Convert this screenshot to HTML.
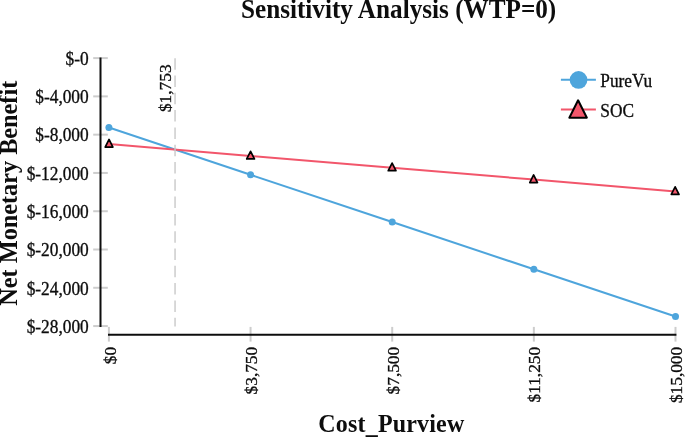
<!DOCTYPE html>
<html><head><meta charset="utf-8"><title>Sensitivity Analysis</title>
<style>
html,body{margin:0;padding:0;background:#fff;overflow:hidden;}
svg{display:block;will-change:transform;font-family:"Liberation Serif",serif;}
</style></head><body>
<svg width="685" height="437" viewBox="0 0 685 437">
<rect width="685" height="437" fill="#fff"/>
<text transform="translate(398.6,17.6) scale(1,1.06)" font-size="25.2" font-weight="bold" text-anchor="middle" fill="#0d0d0d">Sensitivity Analysis (WTP=0)</text>
<text transform="translate(170.8,64.4) rotate(-90) scale(1,1.02)" stroke="#0d0d0d" stroke-width="0.3" font-size="17.33" text-anchor="end" fill="#0d0d0d">$1,753</text>
<g stroke="#cdcdcd" stroke-width="2">
<line x1="93.2" x2="107.8" y1="58.10" y2="58.10"/>
<line x1="93.2" x2="107.8" y1="96.38" y2="96.38"/>
<line x1="93.2" x2="107.8" y1="134.66" y2="134.66"/>
<line x1="93.2" x2="107.8" y1="172.94" y2="172.94"/>
<line x1="93.2" x2="107.8" y1="211.22" y2="211.22"/>
<line x1="93.2" x2="107.8" y1="249.50" y2="249.50"/>
<line x1="93.2" x2="107.8" y1="287.78" y2="287.78"/>
<line x1="93.2" x2="107.8" y1="326.06" y2="326.06"/>
<line y1="326.9" y2="341.6" x1="108.90" x2="108.90"/>
<line y1="326.9" y2="341.6" x1="250.55" x2="250.55"/>
<line y1="326.9" y2="341.6" x1="392.20" x2="392.20"/>
<line y1="326.9" y2="341.6" x1="533.85" x2="533.85"/>
<line y1="326.9" y2="341.6" x1="675.50" x2="675.50"/>
</g>
<line x1="100.5" x2="100.5" y1="57.6" y2="326.9" stroke="#0d0d0d" stroke-width="2"/>
<line x1="108" x2="676.4" y1="334.7" y2="334.7" stroke="#0d0d0d" stroke-width="2"/>
<g font-size="17.33" text-anchor="end" fill="#0d0d0d" stroke="#0d0d0d" stroke-width="0.3">
<text transform="translate(88.7,64.85) scale(1,1.03)">$-0</text>
<text transform="translate(88.7,103.13) scale(1,1.03)">$-4,000</text>
<text transform="translate(88.7,141.41) scale(1,1.03)">$-8,000</text>
<text transform="translate(88.7,179.69) scale(1,1.03)">$-12,000</text>
<text transform="translate(88.7,217.97) scale(1,1.03)">$-16,000</text>
<text transform="translate(88.7,256.25) scale(1,1.03)">$-20,000</text>
<text transform="translate(88.7,294.53) scale(1,1.03)">$-24,000</text>
<text transform="translate(88.7,332.81) scale(1,1.03)">$-28,000</text>
</g>
<g font-size="17.33" text-anchor="end" fill="#0d0d0d" stroke="#0d0d0d" stroke-width="0.3">
<text transform="translate(115.50,346.8) rotate(-90) scale(1,1.02)">$0</text>
<text transform="translate(257.15,346.8) rotate(-90) scale(1,1.02)">$3,750</text>
<text transform="translate(398.80,346.8) rotate(-90) scale(1,1.02)">$7,500</text>
<text transform="translate(540.45,346.8) rotate(-90) scale(1,1.02)">$11,250</text>
<text transform="translate(682.10,346.8) rotate(-90) scale(1,1.02)">$15,000</text>
</g>
<text transform="translate(16.5,193.2) rotate(-90)" font-size="24.25" font-weight="bold" text-anchor="middle" fill="#0d0d0d">Net Monetary Benefit</text>
<text transform="translate(391.4,431.5) scale(1,1.03)" font-size="24" letter-spacing="0.18" font-weight="bold" text-anchor="middle" fill="#0d0d0d">Cost<tspan dy="1.9">_</tspan><tspan dy="-1.9">Purview</tspan></text>
<polyline points="108.90,127.55 250.55,174.80 392.20,222.05 533.85,269.30 675.50,316.55" fill="none" stroke="#4ea5dc" stroke-width="2"/>
<polyline points="108.90,144.10 250.55,155.93 392.20,167.76 533.85,179.59 675.50,191.42" fill="none" stroke="#f2566b" stroke-width="2"/>
<line x1="175.05" y1="58.2" x2="175.05" y2="326.6" stroke="#c9c9c9" stroke-width="1.4" stroke-dasharray="11.5,5.8"/>
<g fill="#4ea5dc">
<circle cx="108.90" cy="127.55" r="3.5"/>
<circle cx="250.55" cy="174.80" r="3.5"/>
<circle cx="392.20" cy="222.05" r="3.5"/>
<circle cx="533.85" cy="269.30" r="3.5"/>
<circle cx="675.50" cy="316.55" r="3.5"/>
</g>
<g fill="#f2566b" stroke="#000" stroke-width="1.7" stroke-linejoin="round">
<path d="M109.05,139.45 l3.85,7.6 h-7.7z"/>
<path d="M250.58,151.28 l3.85,7.6 h-7.7z"/>
<path d="M392.10,163.11 l3.85,7.6 h-7.7z"/>
<path d="M533.62,174.94 l3.85,7.6 h-7.7z"/>
<path d="M675.15,186.77 l3.85,7.6 h-7.7z"/>
</g>
<line x1="560.9" x2="595.9" y1="79.8" y2="79.8" stroke="#4ea5dc" stroke-width="2"/>
<circle cx="578.55" cy="79.9" r="8.85" fill="#4ea5dc"/>
<line x1="560.9" x2="595.9" y1="109.4" y2="109.4" stroke="#f2566b" stroke-width="2"/>
<path d="M578.1,100.3 l8.75,17.4 h-17.5z" fill="#f2566b" stroke="#000" stroke-width="2" stroke-linejoin="round"/>
<text transform="translate(600.3,87) scale(1,1.03)" font-size="17.33" fill="#0d0d0d" stroke="#0d0d0d" stroke-width="0.3">PureVu</text>
<text transform="translate(600.3,116.6) scale(1,1.03)" font-size="17.33" fill="#0d0d0d" stroke="#0d0d0d" stroke-width="0.3">SOC</text>
</svg>
</body></html>
